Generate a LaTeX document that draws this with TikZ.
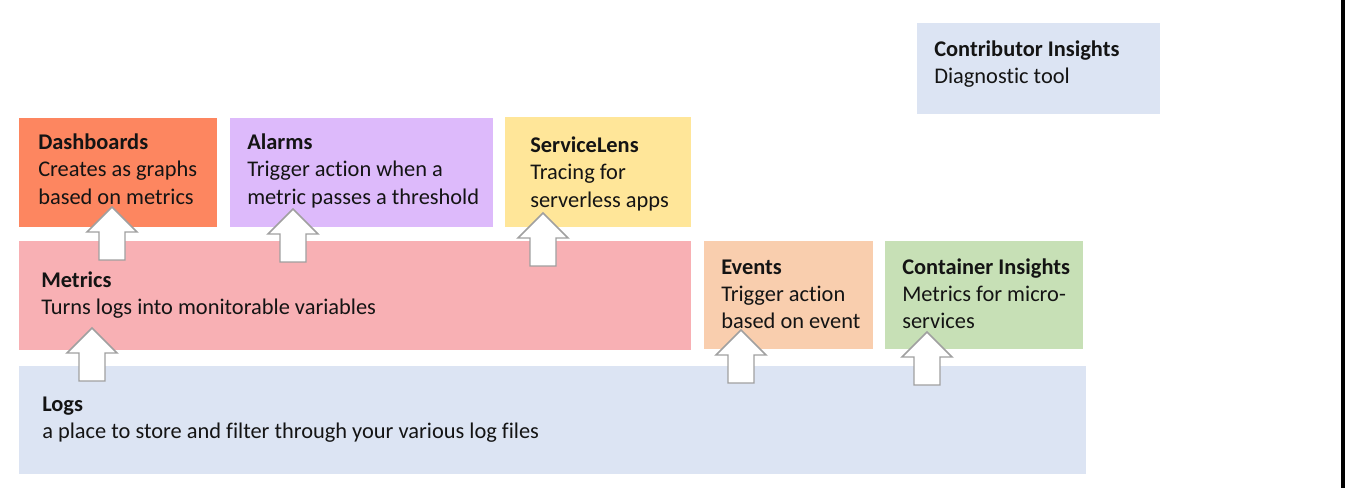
\documentclass[tikz,border=0pt]{standalone}
\usepackage{fontspec}
\setmainfont{Carlito}[Ligatures={NoCommon}]
\definecolor{cDash}{RGB}{253,134,96}
\definecolor{cAlarm}{RGB}{221,186,251}
\definecolor{cLens}{RGB}{255,230,153}
\definecolor{cMetric}{RGB}{248,176,180}
\definecolor{cEvent}{RGB}{249,206,174}
\definecolor{cCont}{RGB}{199,224,182}
\definecolor{cLog}{RGB}{220,228,243}
\definecolor{cTxt}{RGB}{20,20,20}
\definecolor{cArr}{RGB}{160,160,160}
\newcommand\bx[6]{\node[box, fill=#2, minimum width={(#5-#3)*0.75pt}, minimum height={(#6-#4)*0.75pt}] (#1) at ({(#3+#5)/2},{(#4+#6)/2}) {};}
\begin{document}
\begin{tikzpicture}[x=0.75pt,y=-0.75pt,
  box/.style={draw=none, inner sep=0pt, outer sep=0pt, rectangle},
  txt/.style={anchor=base west, inner sep=0pt, text=cTxt, font=\fontsize{16.8}{20.6}\selectfont},
  blockarrow/.style={draw=cArr, fill=white, line width=1.1pt, line join=miter}]
\useasboundingbox (0,0) rectangle (1345,488);
\fill[white] (0,0) rectangle (1345,488);
\fill[black] (1341,0) rectangle (1345,488);
% boxes
\bx{contrib}{cLog}{917}{23}{1160}{114}
\bx{dash}{cDash}{19}{118}{217}{227}
\bx{alarm}{cAlarm}{230}{118}{493}{227}
\bx{lens}{cLens}{505}{117}{691}{227}
\bx{metrics}{cMetric}{19}{241}{691}{350}
\bx{events}{cEvent}{704}{241}{873}{349}
\bx{cont}{cCont}{885}{241}{1083}{349}
\bx{logs}{cLog}{19}{366}{1086}{474}
% texts
\node[txt] (contribT) at (934,56.5) {\vtop{\hbox{\bfseries Contributor Insights}\hbox{Diagnostic tool}}};
\node[txt] (dashT) at (38,149.5) {\vtop{\hbox{\bfseries Dashboards}\hbox{Creates as graphs}\hbox{based on metrics}}};
\node[txt] (alarmT) at (247,149.5) {\vtop{\hbox{\bfseries Alarms}\hbox{Trigger action when a}\hbox{metric passes a threshold}}};
\node[txt] (lensT) at (530,152.5) {\vtop{\hbox{\bfseries ServiceLens}\hbox{Tracing for}\hbox{serverless apps}}};
\node[txt] (metricsT) at (41,287.5) {\vtop{\hbox{\bfseries Metrics}\hbox{Turns logs into monitorable variables}}};
\node[txt] (eventsT) at (721,274) {\vtop{\hbox{\bfseries Events}\hbox{Trigger action}\hbox{based on event}}};
\node[txt] (contT) at (902,274) {\vtop{\hbox{\bfseries Container Insights}\hbox{Metrics for micro-}\hbox{services}}};
\node[txt] (logsT) at (42,411.5) {\vtop{\hbox{\bfseries Logs}\hbox{a place to store and filter through your various log files}}};
% arrow tips
\coordinate (tDash) at (112,207);
\coordinate (tAlarm) at (293,209);
\coordinate (tLens) at (543,213);
\coordinate (tMetrics) at (92,328);
\coordinate (tEvents) at (741,330);
\coordinate (tCont) at (927,332);
\foreach \t in {tDash,tAlarm,tLens,tMetrics,tEvents,tCont}{
  \draw[blockarrow] (\t) -- ++(25,25) -- ++(-12,0) -- ++(0,28) -- ++(-26,0) -- ++(0,-28) -- ++(-12,0) -- cycle;
}
\end{tikzpicture}
\end{document}
